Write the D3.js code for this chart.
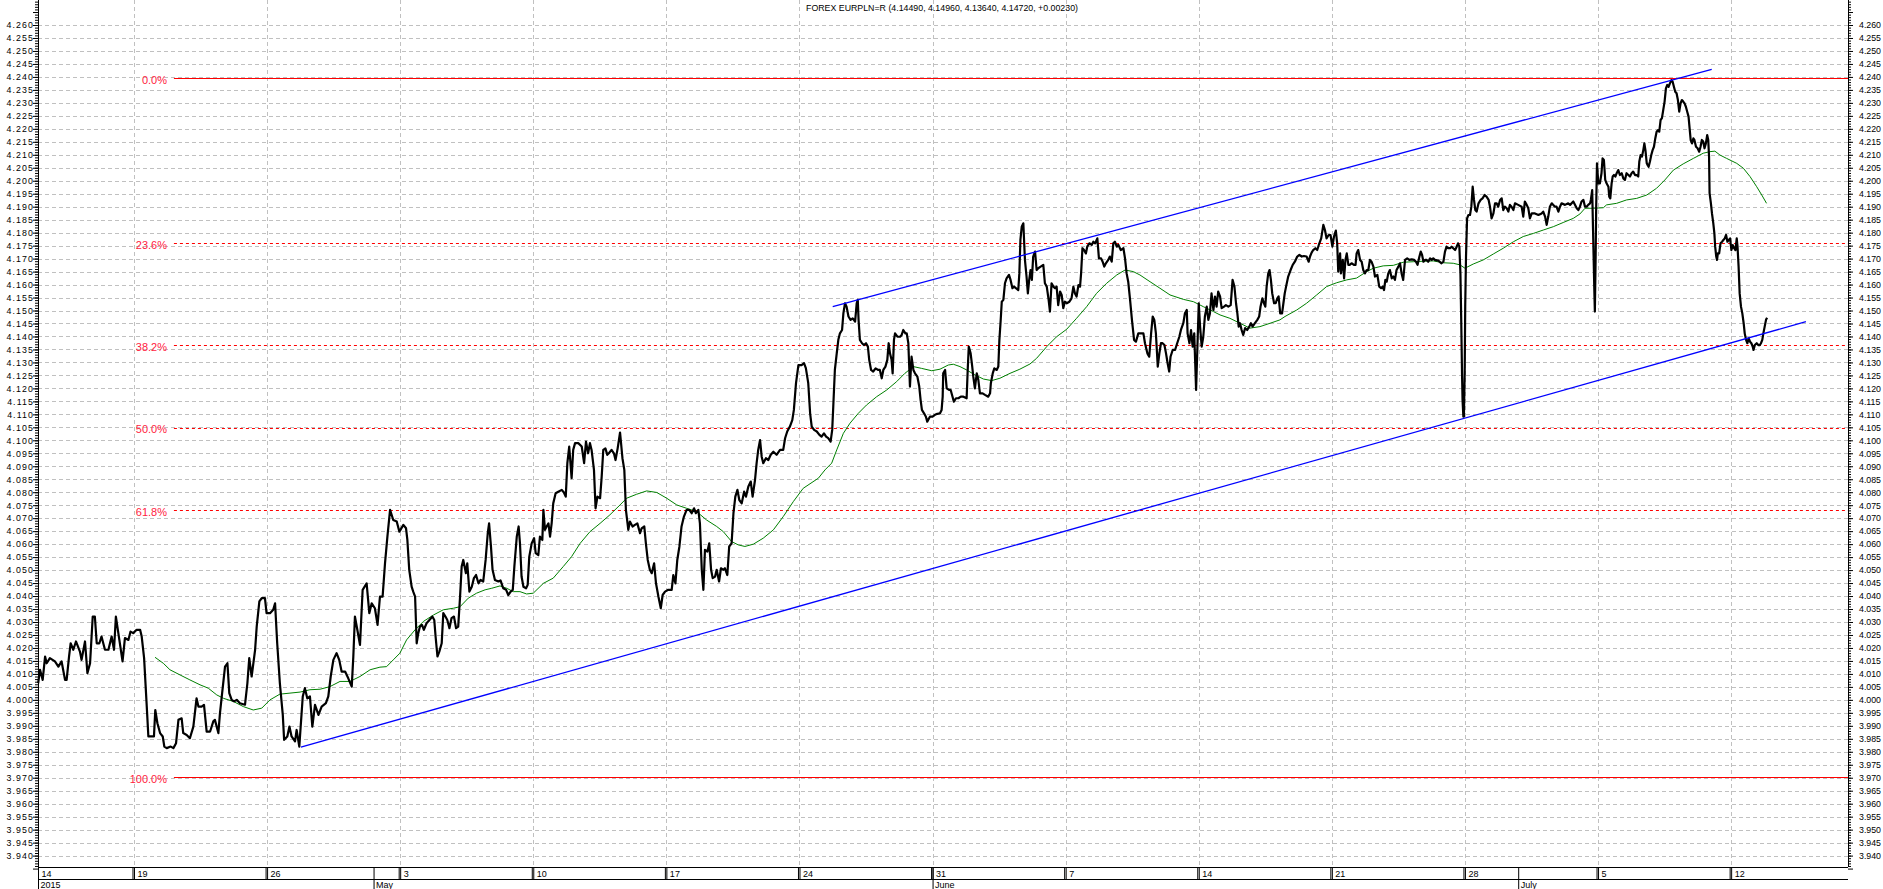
<!DOCTYPE html>
<html>
<head>
<meta charset="utf-8">
<title>FOREX EURPLN=R</title>
<script src="https://cdn.jsdelivr.net/npm/d3@7"></script>
<style>
  html, body { margin: 0; padding: 0; background: #fff; }
  svg { display: block; font-family: "Liberation Sans", Arial, sans-serif; }
</style>
</head>
<body>
<svg id="chart" width="1883" height="889"></svg>
<script>
// x values are trading days counted from Monday 20 Apr 2015 (5 per week)

// Week start labels on the date row (first one sits on the left edge)
const weekDays = [-3.606, 0, 5, 10, 15, 20, 25, 30, 35, 40, 45, 50, 55, 60];
const weekLabels = ['14', '19', '26', '3', '10', '17', '24', '31', '7', '14', '21', '28', '5', '12'];

// Month / year labels
const monthDays = [-3.606, 9, 30, 52];
const monthLabels = ['2015', 'May', 'June', 'July'];

// Fibonacci retracement between the swing low and high
const fibHigh = 4.2395;
const fibLow = 3.9702;
const fibLevels = [0, 0.236, 0.382, 0.5, 0.618, 1];
const fibLabels = ['0.0%', '23.6%', '38.2%', '50.0%', '61.8%', '100.0%'];

// Trend channel (blue)
const channelUpper = [[26.25, 4.1515], [59.27, 4.2429]];
const channelLower = [[6.27, 3.9818], [62.81, 4.1457]];

// EUR/PLN price
const eurplnClose = [
  [-3.60,4.0064],[-3.53,4.0116],[-3.43,4.0077],[-3.34,4.0167],[-3.28,4.0141],[-3.16,4.0161],[-2.97,4.0148],[-2.84,4.0128],
  [-2.72,4.0148],[-2.59,4.0077],[-2.53,4.0077],[-2.44,4.0167],[-2.38,4.0218],[-2.28,4.0193],[-2.18,4.0225],[-2.03,4.0186],
  [-1.97,4.0154],[-1.84,4.0225],[-1.75,4.0103],[-1.65,4.0141],[-1.55,4.0321],[-1.47,4.0321],[-1.40,4.0218],[-1.30,4.0218],
  [-1.22,4.0244],[-1.09,4.0193],[-0.96,4.0193],[-0.84,4.0244],[-0.75,4.0193],[-0.68,4.0321],[-0.55,4.0231],[-0.43,4.0148],
  [-0.34,4.0238],[-0.21,4.0231],[-0.13,4.0263],[-0.03,4.0257],[0.10,4.0270],[0.23,4.0270],[0.29,4.0244],[0.38,4.0161],
  [0.48,3.9974],[0.54,3.9859],[0.66,3.9859],[0.75,3.9859],[0.80,3.9961],[0.88,3.9910],[0.98,3.9872],[1.08,3.9859],
  [1.14,3.9820],[1.23,3.9814],[1.38,3.9820],[1.48,3.9814],[1.58,3.9833],[1.67,3.9923],[1.79,3.9929],[1.85,3.9872],
  [1.98,3.9865],[2.10,3.9852],[2.23,3.9897],[2.35,4.0006],[2.42,3.9974],[2.54,3.9974],[2.63,3.9981],[2.73,3.9878],
  [2.86,3.9878],[2.98,3.9917],[3.04,3.9923],[3.17,3.9872],[3.23,3.9949],[3.29,4.0006],[3.42,4.0128],[3.51,4.0141],
  [3.58,4.0026],[3.67,4.0000],[3.76,3.9994],[3.86,4.0000],[3.98,3.9987],[4.17,3.9981],[4.26,4.0064],[4.33,4.0161],
  [4.42,4.0090],[4.55,4.0193],[4.61,4.0282],[4.71,4.0379],[4.80,4.0392],[4.92,4.0392],[4.98,4.0334],[5.11,4.0334],
  [5.23,4.0347],[5.30,4.0372],[5.38,4.0218],[5.48,4.0064],[5.59,3.9942],[5.64,3.9846],[5.76,3.9859],[5.84,3.9897],
  [5.92,3.9859],[6.05,3.9840],[6.11,3.9884],[6.21,3.9820],[6.34,4.0013],[6.42,4.0045],[6.51,4.0006],[6.61,4.0013],
  [6.70,3.9897],[6.80,3.9981],[6.93,3.9942],[7.05,3.9974],[7.21,3.9987],[7.30,4.0013],[7.39,4.0090],[7.49,4.0154],
  [7.61,4.0180],[7.71,4.0154],[7.80,4.0109],[7.93,4.0109],[8.05,4.0083],[8.18,4.0051],[8.24,4.0167],[8.30,4.0321],
  [8.39,4.0270],[8.49,4.0212],[8.59,4.0424],[8.74,4.0449],[8.84,4.0334],[8.93,4.0372],[9.05,4.0353],[9.15,4.0289],
  [9.24,4.0398],[9.34,4.0398],[9.43,4.0526],[9.52,4.0629],[9.62,4.0732],[9.74,4.0693],[9.87,4.0687],[9.97,4.0648],
  [10.12,4.0674],[10.22,4.0661],[10.27,4.0616],[10.34,4.0501],[10.43,4.0436],[10.49,4.0417],[10.56,4.0398],[10.62,4.0218],
  [10.68,4.0257],[10.74,4.0282],[10.82,4.0289],[10.89,4.0270],[10.99,4.0295],[11.10,4.0308],[11.21,4.0321],[11.28,4.0308],
  [11.33,4.0244],[11.40,4.0167],[11.47,4.0186],[11.56,4.0218],[11.62,4.0334],[11.70,4.0321],[11.77,4.0308],[11.85,4.0276],
  [11.93,4.0315],[12.02,4.0321],[12.10,4.0276],[12.18,4.0282],[12.25,4.0398],[12.31,4.0514],[12.37,4.0539],[12.47,4.0488],
  [12.52,4.0526],[12.60,4.0417],[12.69,4.0436],[12.77,4.0469],[12.85,4.0481],[12.94,4.0449],[13.02,4.0462],[13.12,4.0456],
  [13.21,4.0539],[13.29,4.0642],[13.34,4.0680],[13.41,4.0591],[13.47,4.0501],[13.56,4.0462],[13.69,4.0456],[13.77,4.0460],
  [13.87,4.0430],[13.98,4.0424],[14.06,4.0404],[14.15,4.0417],[14.23,4.0424],[14.29,4.0514],[14.38,4.0629],[14.45,4.0668],
  [14.50,4.0603],[14.56,4.0475],[14.63,4.0436],[14.73,4.0430],[14.79,4.0443],[14.85,4.0552],[14.94,4.0603],[15.03,4.0623],
  [15.09,4.0565],[15.19,4.0558],[15.25,4.0629],[15.34,4.0616],[15.38,4.0732],[15.44,4.0655],[15.50,4.0668],[15.57,4.0680],
  [15.63,4.0629],[15.69,4.0680],[15.75,4.0757],[15.84,4.0796],[15.94,4.0802],[16.07,4.0809],[16.15,4.0799],[16.22,4.0783],
  [16.28,4.0912],[16.35,4.0976],[16.44,4.0854],[16.50,4.0963],[16.57,4.0989],[16.69,4.0989],[16.82,4.0976],[16.91,4.0912],
  [16.98,4.0995],[17.06,4.0950],[17.13,4.0989],[17.19,4.0963],[17.28,4.0886],[17.34,4.0738],[17.41,4.0783],[17.51,4.0777],
  [17.57,4.0860],[17.63,4.0963],[17.71,4.0969],[17.78,4.0944],[17.84,4.0950],[17.94,4.0963],[18.03,4.0950],[18.09,4.0924],
  [18.17,4.0969],[18.26,4.1030],[18.35,4.0931],[18.42,4.0886],[18.48,4.0732],[18.57,4.0655],[18.63,4.0687],[18.73,4.0668],
  [18.82,4.0674],[18.91,4.0680],[19.01,4.0642],[19.07,4.0661],[19.17,4.0668],[19.23,4.0603],[19.30,4.0539],[19.38,4.0501],
  [19.45,4.0488],[19.54,4.0526],[19.61,4.0449],[19.70,4.0398],[19.79,4.0353],[19.86,4.0404],[19.95,4.0417],[20.07,4.0424],
  [20.20,4.0424],[20.26,4.0481],[20.34,4.0449],[20.41,4.0539],[20.49,4.0591],[20.57,4.0668],[20.66,4.0706],[20.76,4.0732],
  [20.86,4.0732],[20.95,4.0719],[21.04,4.0738],[21.11,4.0719],[21.20,4.0732],[21.26,4.0680],[21.33,4.0501],[21.39,4.0424],
  [21.45,4.0578],[21.54,4.0571],[21.61,4.0603],[21.68,4.0501],[21.74,4.0469],[21.83,4.0475],[21.89,4.0501],[21.98,4.0456],
  [22.05,4.0507],[22.14,4.0501],[22.20,4.0507],[22.29,4.0481],[22.36,4.0591],[22.45,4.0603],[22.52,4.0719],[22.59,4.0783],
  [22.67,4.0809],[22.74,4.0770],[22.83,4.0757],[22.92,4.0802],[22.99,4.0783],[23.08,4.0822],[23.17,4.0841],[23.24,4.0783],
  [23.33,4.0847],[23.39,4.0912],[23.45,4.0963],[23.52,4.1001],[23.58,4.0937],[23.64,4.0912],[23.74,4.0931],[23.83,4.0924],
  [23.92,4.0944],[24.02,4.0956],[24.14,4.0944],[24.27,4.0963],[24.39,4.0963],[24.46,4.1008],[24.54,4.1034],[24.64,4.1053],
  [24.73,4.1078],[24.79,4.1117],[24.87,4.1220],[24.96,4.1290],[25.08,4.1290],[25.17,4.1297],[25.24,4.1278],[25.33,4.1220],
  [25.40,4.1104],[25.46,4.1053],[25.55,4.1040],[25.65,4.1034],[25.75,4.1021],[25.83,4.1014],[25.92,4.1027],[26.00,4.1014],
  [26.08,4.1008],[26.17,4.0995],[26.23,4.1040],[26.27,4.1130],[26.33,4.1271],[26.40,4.1335],[26.46,4.1387],[26.52,4.1412],
  [26.60,4.1425],[26.65,4.1489],[26.71,4.1528],[26.77,4.1515],[26.84,4.1477],[26.92,4.1464],[27.00,4.1470],[27.09,4.1457],
  [27.15,4.1528],[27.19,4.1541],[27.22,4.1464],[27.27,4.1387],[27.35,4.1374],[27.42,4.1367],[27.50,4.1374],[27.57,4.1361],
  [27.62,4.1310],[27.69,4.1271],[27.77,4.1265],[27.86,4.1277],[27.96,4.1271],[28.02,4.1271],[28.09,4.1239],[28.15,4.1271],
  [28.23,4.1284],[28.30,4.1310],[28.35,4.1374],[28.40,4.1335],[28.46,4.1310],[28.50,4.1258],[28.55,4.1387],[28.59,4.1412],
  [28.68,4.1399],[28.78,4.1399],[28.84,4.1406],[28.90,4.1425],[28.98,4.1412],[29.03,4.1412],[29.09,4.1374],[29.15,4.1207],
  [29.21,4.1322],[29.28,4.1271],[29.34,4.1258],[29.43,4.1245],[29.50,4.1207],[29.55,4.1156],[29.60,4.1117],[29.68,4.1104],
  [29.75,4.1091],[29.80,4.1072],[29.90,4.1091],[30.00,4.1091],[30.09,4.1098],[30.18,4.1102],[30.28,4.1104],[30.34,4.1117],
  [30.38,4.1168],[30.40,4.1258],[30.47,4.1271],[30.53,4.1200],[30.62,4.1194],[30.68,4.1194],[30.75,4.1168],[30.80,4.1149],
  [30.88,4.1162],[30.97,4.1162],[31.06,4.1168],[31.16,4.1168],[31.28,4.1162],[31.32,4.1271],[31.36,4.1361],[31.43,4.1335],
  [31.49,4.1284],[31.53,4.1245],[31.59,4.1200],[31.66,4.1258],[31.72,4.1232],[31.78,4.1181],[31.88,4.1181],[31.97,4.1175],
  [32.09,4.1168],[32.16,4.1181],[32.19,4.1220],[32.26,4.1258],[32.32,4.1277],[32.41,4.1271],[32.47,4.1284],[32.51,4.1387],
  [32.56,4.1464],[32.60,4.1534],[32.66,4.1541],[32.72,4.1605],[32.78,4.1624],[32.87,4.1637],[32.93,4.1618],[33.00,4.1586],
  [33.06,4.1592],[33.13,4.1586],[33.22,4.1579],[33.26,4.1643],[33.30,4.1772],[33.35,4.1823],[33.41,4.1836],[33.47,4.1695],
  [33.53,4.1631],[33.58,4.1566],[33.63,4.1618],[33.68,4.1656],[33.73,4.1618],[33.78,4.1708],[33.85,4.1727],[33.91,4.1656],
  [33.97,4.1663],[34.06,4.1669],[34.16,4.1676],[34.22,4.1605],[34.29,4.1592],[34.36,4.1541],[34.41,4.1496],[34.47,4.1605],
  [34.54,4.1592],[34.60,4.1586],[34.66,4.1592],[34.72,4.1521],[34.79,4.1573],[34.85,4.1560],[34.91,4.1509],[34.97,4.1534],
  [35.04,4.1528],[35.14,4.1534],[35.22,4.1547],[35.29,4.1592],[35.35,4.1566],[35.41,4.1554],[35.48,4.1598],[35.54,4.1592],
  [35.58,4.1643],[35.63,4.1740],[35.69,4.1733],[35.76,4.1720],[35.81,4.1746],[35.89,4.1759],[35.98,4.1753],[36.04,4.1765],
  [36.11,4.1759],[36.19,4.1778],[36.25,4.1701],[36.33,4.1701],[36.39,4.1688],[36.45,4.1669],[36.51,4.1682],[36.60,4.1695],
  [36.66,4.1708],[36.73,4.1688],[36.79,4.1759],[36.85,4.1765],[36.92,4.1746],[36.98,4.1753],[37.07,4.1733],[37.17,4.1740],
  [37.23,4.1701],[37.29,4.1643],[37.35,4.1611],[37.42,4.1541],[37.49,4.1464],[37.57,4.1387],[37.64,4.1380],[37.73,4.1412],
  [37.85,4.1412],[37.92,4.1412],[37.98,4.1374],[38.07,4.1335],[38.14,4.1322],[38.21,4.1412],[38.27,4.1477],[38.33,4.1464],
  [38.39,4.1412],[38.46,4.1284],[38.52,4.1335],[38.58,4.1374],[38.64,4.1374],[38.71,4.1367],[38.77,4.1335],[38.83,4.1297],
  [38.89,4.1265],[38.94,4.1322],[39.02,4.1348],[39.11,4.1348],[39.19,4.1374],[39.27,4.1399],[39.33,4.1425],[39.42,4.1451],
  [39.48,4.1489],[39.55,4.1502],[39.58,4.1412],[39.65,4.1374],[39.71,4.1425],[39.77,4.1361],[39.83,4.1412],[39.90,4.1194],
  [39.95,4.1361],[40.00,4.1528],[40.05,4.1438],[40.11,4.1361],[40.17,4.1399],[40.23,4.1477],[40.30,4.1515],[40.36,4.1464],
  [40.42,4.1489],[40.48,4.1566],[40.55,4.1502],[40.61,4.1554],[40.67,4.1515],[40.73,4.1573],[40.80,4.1554],[40.86,4.1509],
  [40.95,4.1515],[41.02,4.1521],[41.11,4.1515],[41.20,4.1521],[41.27,4.1618],[41.34,4.1592],[41.40,4.1528],[41.45,4.1489],
  [41.50,4.1438],[41.55,4.1451],[41.61,4.1425],[41.67,4.1406],[41.74,4.1432],[41.82,4.1425],[41.90,4.1438],[41.96,4.1451],
  [42.02,4.1438],[42.11,4.1451],[42.20,4.1464],[42.27,4.1477],[42.32,4.1515],[42.39,4.1547],[42.45,4.1528],[42.50,4.1515],
  [42.55,4.1592],[42.61,4.1643],[42.66,4.1656],[42.71,4.1618],[42.76,4.1566],[42.83,4.1528],[42.89,4.1528],[42.95,4.1547],
  [43.00,4.1554],[43.06,4.1489],[43.13,4.1489],[43.18,4.1528],[43.23,4.1566],[43.28,4.1592],[43.36,4.1631],[43.45,4.1656],
  [43.53,4.1676],[43.61,4.1688],[43.70,4.1708],[43.78,4.1714],[43.87,4.1708],[43.95,4.1710],[44.05,4.1708],[44.13,4.1688],
  [44.18,4.1708],[44.24,4.1723],[44.30,4.1733],[44.38,4.1740],[44.45,4.1733],[44.53,4.1759],[44.60,4.1778],[44.68,4.1830],
  [44.74,4.1810],[44.80,4.1778],[44.88,4.1791],[44.95,4.1791],[45.02,4.1746],[45.08,4.1785],[45.15,4.1808],[45.20,4.1759],
  [45.24,4.1650],[45.31,4.1720],[45.34,4.1643],[45.41,4.1695],[45.46,4.1624],[45.51,4.1695],[45.56,4.1720],[45.62,4.1676],
  [45.68,4.1676],[45.74,4.1682],[45.83,4.1676],[45.89,4.1676],[45.93,4.1720],[45.99,4.1733],[46.06,4.1695],[46.12,4.1688],
  [46.18,4.1656],[46.24,4.1643],[46.31,4.1656],[46.37,4.1656],[46.43,4.1695],[46.49,4.1688],[46.56,4.1669],[46.62,4.1631],
  [46.71,4.1637],[46.78,4.1592],[46.85,4.1586],[46.91,4.1592],[46.96,4.1579],[47.01,4.1618],[47.06,4.1611],[47.12,4.1643],
  [47.18,4.1656],[47.25,4.1624],[47.31,4.1631],[47.37,4.1618],[47.43,4.1656],[47.50,4.1669],[47.56,4.1682],[47.62,4.1643],
  [47.68,4.1618],[47.75,4.1695],[47.83,4.1701],[47.91,4.1695],[48.00,4.1697],[48.09,4.1695],[48.16,4.1688],[48.22,4.1676],
  [48.29,4.1708],[48.34,4.1727],[48.39,4.1714],[48.44,4.1688],[48.50,4.1695],[48.56,4.1695],[48.62,4.1688],[48.69,4.1701],
  [48.75,4.1695],[48.81,4.1701],[48.87,4.1695],[49.00,4.1692],[49.12,4.1682],[49.19,4.1688],[49.25,4.1727],[49.31,4.1746],
  [49.37,4.1740],[49.44,4.1740],[49.50,4.1746],[49.56,4.1740],[49.63,4.1733],[49.69,4.1746],[49.74,4.1759],[49.79,4.1746],
  [49.83,4.1643],[49.86,4.1464],[49.89,4.1258],[49.91,4.1155],[49.94,4.1091],[49.96,4.1091],[49.99,4.1258],[50.01,4.1515],
  [50.04,4.1708],[50.08,4.1855],[50.13,4.1868],[50.19,4.1868],[50.24,4.1900],[50.29,4.1977],[50.34,4.1926],[50.39,4.1887],
  [50.44,4.1881],[50.51,4.1913],[50.59,4.1926],[50.66,4.1932],[50.74,4.1945],[50.81,4.1939],[50.89,4.1926],[50.94,4.1900],
  [51.00,4.1855],[51.07,4.1874],[51.13,4.1913],[51.19,4.1913],[51.25,4.1900],[51.32,4.1926],[51.38,4.1932],[51.44,4.1887],
  [51.50,4.1900],[51.57,4.1894],[51.63,4.1881],[51.69,4.1907],[51.75,4.1900],[51.82,4.1887],[51.88,4.1913],[52.00,4.1907],
  [52.13,4.1900],[52.19,4.1862],[52.25,4.1920],[52.32,4.1907],[52.38,4.1894],[52.44,4.1855],[52.51,4.1874],[52.63,4.1874],
  [52.76,4.1868],[52.88,4.1874],[52.94,4.1881],[53.01,4.1862],[53.07,4.1830],[53.13,4.1862],[53.19,4.1900],[53.26,4.1913],
  [53.38,4.1900],[53.44,4.1900],[53.51,4.1881],[53.57,4.1900],[53.63,4.1913],[53.76,4.1907],[53.88,4.1913],[53.95,4.1907],
  [54.07,4.1920],[54.20,4.1894],[54.26,4.1887],[54.32,4.1900],[54.38,4.1920],[54.45,4.1926],[54.51,4.1900],[54.57,4.1900],
  [54.63,4.1907],[54.70,4.1913],[54.73,4.1926],[54.78,4.1964],[54.82,4.1772],[54.86,4.1579],[54.88,4.1496],[54.91,4.1708],
  [54.93,4.1900],[54.96,4.2067],[55.01,4.1990],[55.07,4.1990],[55.13,4.2029],[55.17,4.2086],[55.22,4.2080],[55.27,4.2003],
  [55.32,4.1990],[55.39,4.1977],[55.42,4.1939],[55.46,4.1932],[55.51,4.1990],[55.55,4.2016],[55.60,4.2022],[55.65,4.2016],
  [55.70,4.2029],[55.76,4.2041],[55.82,4.2022],[55.89,4.2029],[55.95,4.2009],[56.01,4.2003],[56.07,4.2029],[56.14,4.2022],
  [56.20,4.2016],[56.26,4.2029],[56.32,4.2035],[56.39,4.2022],[56.45,4.2022],[56.51,4.2016],[56.55,4.2074],[56.60,4.2099],
  [56.65,4.2093],[56.70,4.2118],[56.74,4.2144],[56.78,4.2118],[56.83,4.2067],[56.86,4.2061],[56.90,4.2054],[56.95,4.2074],
  [57.00,4.2099],[57.05,4.2118],[57.10,4.2131],[57.15,4.2163],[57.20,4.2189],[57.25,4.2195],[57.30,4.2189],[57.35,4.2234],
  [57.40,4.2241],[57.45,4.2273],[57.50,4.2305],[57.55,4.2356],[57.60,4.2369],[57.65,4.2362],[57.70,4.2375],[57.76,4.2388],
  [57.80,4.2382],[57.85,4.2362],[57.90,4.2343],[57.95,4.2337],[58.00,4.2311],[58.05,4.2266],[58.10,4.2298],[58.15,4.2311],
  [58.20,4.2305],[58.25,4.2298],[58.30,4.2285],[58.35,4.2266],[58.40,4.2247],[58.44,4.2202],[58.48,4.2157],[58.53,4.2144],
  [58.58,4.2163],[58.62,4.2157],[58.68,4.2131],[58.74,4.2125],[58.80,4.2112],[58.85,4.2131],[58.90,4.2157],[58.95,4.2151],
  [59.00,4.2125],[59.05,4.2144],[59.10,4.2176],[59.14,4.2157],[59.17,4.2093],[59.19,4.1952],[59.24,4.1913],[59.28,4.1874],
  [59.33,4.1836],[59.37,4.1797],[59.40,4.1746],[59.44,4.1708],[59.47,4.1695],[59.50,4.1720],[59.55,4.1720],[59.60,4.1759],
  [59.66,4.1765],[59.71,4.1772],[59.76,4.1778],[59.81,4.1791],[59.86,4.1765],[59.91,4.1772],[59.96,4.1778],[60.01,4.1733],
  [60.06,4.1752],[60.11,4.1740],[60.16,4.1733],[60.21,4.1778],[60.24,4.1746],[60.28,4.1669],[60.32,4.1566],[60.37,4.1515],
  [60.42,4.1489],[60.47,4.1451],[60.51,4.1412],[60.56,4.1387],[60.61,4.1374],[60.66,4.1393],[60.71,4.1380],[60.76,4.1374],
  [60.81,4.1361],[60.84,4.1348],[60.89,4.1367],[60.96,4.1374],[61.02,4.1367],[61.08,4.1367],[61.12,4.1374],[61.17,4.1387],
  [61.21,4.1412],[61.26,4.1438],[61.31,4.1464],[61.35,4.1472]
];

// Moving average (green)
const movingAvg = [
  [0.79,4.0164],[1.10,4.0141],[1.35,4.0116],[1.73,4.0096],[2.10,4.0077],[2.48,4.0058],[2.79,4.0045],[3.11,4.0019],
  [3.36,4.0006],[3.73,3.9994],[4.11,3.9974],[4.48,3.9961],[4.80,3.9968],[5.11,4.0000],[5.48,4.0022],[5.86,4.0026],
  [6.24,4.0030],[6.61,4.0039],[6.99,4.0041],[7.36,4.0051],[7.74,4.0071],[8.11,4.0071],[8.49,4.0090],[8.87,4.0116],
  [9.24,4.0126],[9.49,4.0128],[9.74,4.0154],[9.99,4.0180],[10.24,4.0231],[10.56,4.0270],[10.87,4.0302],[11.25,4.0327],
  [11.62,4.0347],[12.00,4.0353],[12.25,4.0359],[12.56,4.0392],[12.87,4.0411],[13.19,4.0424],[13.44,4.0430],[13.75,4.0439],
  [14.00,4.0430],[14.25,4.0417],[14.50,4.0417],[14.75,4.0408],[15.00,4.0411],[15.38,4.0449],[15.75,4.0469],[16.13,4.0514],
  [16.44,4.0552],[16.76,4.0603],[17.13,4.0648],[17.51,4.0680],[17.88,4.0713],[18.26,4.0751],[18.51,4.0777],[18.88,4.0792],
  [19.26,4.0805],[19.64,4.0799],[20.01,4.0777],[20.39,4.0751],[20.76,4.0738],[21.14,4.0725],[21.51,4.0693],[21.89,4.0668],
  [22.14,4.0648],[22.45,4.0610],[22.70,4.0597],[22.95,4.0591],[23.27,4.0600],[23.64,4.0623],[24.02,4.0655],[24.39,4.0706],
  [24.77,4.0764],[25.14,4.0815],[25.71,4.0854],[25.96,4.0886],[26.21,4.0912],[26.40,4.0963],[26.65,4.1027],[26.90,4.1066],
  [27.21,4.1104],[27.52,4.1136],[27.90,4.1168],[28.28,4.1194],[28.65,4.1226],[28.96,4.1258],[29.28,4.1284],[29.59,4.1277],
  [29.97,4.1268],[30.28,4.1274],[30.59,4.1290],[30.78,4.1293],[31.03,4.1284],[31.28,4.1271],[31.59,4.1252],[31.91,4.1236],
  [32.22,4.1230],[32.53,4.1239],[32.91,4.1258],[33.28,4.1274],[33.66,4.1294],[33.91,4.1316],[34.29,4.1361],[34.66,4.1399],
  [35.04,4.1428],[35.41,4.1470],[35.79,4.1515],[36.16,4.1566],[36.54,4.1605],[36.92,4.1637],[37.23,4.1656],[37.54,4.1650],
  [37.79,4.1637],[38.17,4.1611],[38.54,4.1586],[38.92,4.1560],[39.42,4.1543],[39.80,4.1534],[40.17,4.1515],[40.55,4.1496],
  [40.80,4.1483],[41.17,4.1470],[41.55,4.1451],[41.92,4.1432],[42.30,4.1438],[42.68,4.1451],[43.05,4.1464],[43.24,4.1477],
  [43.68,4.1502],[44.05,4.1528],[44.43,4.1560],[44.80,4.1592],[45.18,4.1607],[45.56,4.1618],[45.93,4.1625],[46.31,4.1650],
  [46.56,4.1663],[46.93,4.1672],[47.31,4.1674],[47.68,4.1686],[48.06,4.1688],[48.44,4.1690],[48.81,4.1691],[49.19,4.1684],
  [49.56,4.1682],[49.81,4.1676],[50.00,4.1663],[50.31,4.1679],[50.69,4.1695],[51.07,4.1718],[51.44,4.1740],[51.82,4.1765],
  [52.19,4.1785],[52.57,4.1797],[52.94,4.1810],[53.32,4.1823],[53.69,4.1839],[54.07,4.1855],[54.32,4.1872],[54.51,4.1894],
  [54.82,4.1894],[55.20,4.1896],[55.32,4.1907],[55.70,4.1913],[56.07,4.1926],[56.45,4.1932],[56.83,4.1945],[57.20,4.1971],
  [57.51,4.2003],[57.83,4.2041],[58.20,4.2065],[58.58,4.2086],[58.95,4.2106],[59.20,4.2112],[59.39,4.2114],[59.58,4.2099],
  [59.83,4.2086],[60.21,4.2067],[60.46,4.2048],[60.71,4.2016],[60.96,4.1977],[61.15,4.1945],[61.33,4.1913]
];

// Layout
const width = 1883, height = 889;
const plotLeft = 38, plotRight = 1848;
const dateTop = 867, dateMid = 879;
const fibStartDay = 1.5;

const svg = d3.select('#chart');

const x = d3.scaleLinear().domain([-3.606, 64.39]).range([plotLeft, plotRight]);
const y = d3.scaleLinear().domain([3.94, 4.26]).range([855.6, 25]);

// Tick values on the price axes
const majorTicks = d3.range(3935, 4270, 5).map(v => v / 1000);
const minorTicks = d3.range(3936, 4270).map(v => v / 1000);
const labelTicks = majorTicks.filter(v => v >= 3.94 && v <= 4.26);
const fmt = d3.format('.3f');

// Horizontal gridlines
svg.append('g')
  .selectAll('line')
  .data(labelTicks)
  .join('line')
  .attr('x1', plotLeft)
  .attr('x2', plotRight)
  .attr('y1', d => Math.round(y(d)) + 0.5)
  .attr('y2', d => Math.round(y(d)) + 0.5)
  .attr('stroke', '#c0c0c0')
  .attr('stroke-dasharray', '4,3');

// Vertical gridlines at week starts
svg.append('g')
  .selectAll('line')
  .data(weekDays.slice(1))
  .join('line')
  .attr('x1', d => Math.round(x(d)) + 0.5)
  .attr('x2', d => Math.round(x(d)) + 0.5)
  .attr('y1', 0)
  .attr('y2', dateTop)
  .attr('stroke', '#c0c0c0')
  .attr('stroke-dasharray', '4,3');

// Fibonacci levels
const fibValues = fibLevels.map(f => fibHigh - f * (fibHigh - fibLow));
const fibG = svg.append('g');
fibG.selectAll('line')
  .data(fibValues)
  .join('line')
  .attr('x1', x(fibStartDay))
  .attr('x2', plotRight)
  .attr('y1', d => Math.round(y(d)) + 0.5)
  .attr('y2', d => Math.round(y(d)) + 0.5)
  .attr('stroke', '#ff0000')
  .attr('stroke-width', 1.2)
  .attr('stroke-dasharray', (d, i) => (i === 0 || i === fibValues.length - 1) ? null : '3,3');
fibG.selectAll('text')
  .data(fibValues)
  .join('text')
  .attr('x', 167)
  .attr('y', d => y(d) + 1.5)
  .attr('dy', '0.35em')
  .attr('text-anchor', 'end')
  .attr('font-size', 11)
  .attr('fill', '#ff1a40')
  .text((d, i) => fibLabels[i]);

// Moving average
const line = d3.line().x(d => x(d[0])).y(d => y(d[1]));
svg.append('path')
  .datum(movingAvg)
  .attr('d', line)
  .attr('fill', 'none')
  .attr('stroke', '#008000')
  .attr('stroke-width', 1);

// Price line
svg.append('path')
  .datum(eurplnClose)
  .attr('d', line)
  .attr('fill', 'none')
  .attr('stroke', '#000')
  .attr('stroke-width', 2.2)
  .attr('stroke-linejoin', 'round');

// Trend channel
svg.append('g')
  .selectAll('path')
  .data([channelUpper, channelLower])
  .join('path')
  .attr('d', line)
  .attr('fill', 'none')
  .attr('stroke', '#0000ff')
  .attr('stroke-width', 1.3);

// Left price axis
function styleAxis(g) {
  g.select('.domain').remove();
  g.attr('font-family', null).attr('font-size', null);
  g.selectAll('line').attr('stroke', '#000');
  g.selectAll('text').attr('fill', '#000');
}

svg.append('g')
  .attr('transform', `translate(${plotLeft},0)`)
  .call(d3.axisLeft(y).tickValues(minorTicks).tickSize(3).tickFormat(''))
  .call(styleAxis);
svg.append('g')
  .attr('transform', `translate(${plotLeft},0)`)
  .call(d3.axisLeft(y).tickValues(majorTicks).tickSize(5).tickPadding(-1)
    .tickFormat(d => labelTicks.includes(d) ? fmt(d) : ''))
  .call(styleAxis)
  .selectAll('text')
  .attr('font-size', 8.8)
  .attr('letter-spacing', 1.1);

// Right price axis
svg.append('g')
  .attr('transform', `translate(${plotRight},0)`)
  .call(d3.axisRight(y).tickValues(minorTicks).tickSize(3).tickFormat(''))
  .call(styleAxis);
svg.append('g')
  .attr('transform', `translate(${plotRight},0)`)
  .call(d3.axisRight(y).tickValues(majorTicks).tickSize(5).tickPadding(6)
    .tickFormat(d => labelTicks.includes(d) ? fmt(d) : ''))
  .call(styleAxis)
  .selectAll('text')
  .attr('font-size', 8.8);

// Axis frame lines
svg.append('line')
  .attr('x1', plotLeft + 0.5).attr('x2', plotLeft + 0.5)
  .attr('y1', 0).attr('y2', height)
  .attr('stroke', '#000');
svg.append('line')
  .attr('x1', plotRight + 0.5).attr('x2', plotRight + 0.5)
  .attr('y1', 0).attr('y2', dateTop)
  .attr('stroke', '#000');
[dateTop, dateMid].forEach(v => {
  svg.append('line')
    .attr('x1', plotLeft).attr('x2', plotRight)
    .attr('y1', v + 0.5).attr('y2', v + 0.5)
    .attr('stroke', '#000');
});

// Date row: week starts
const weekG = svg.append('g')
  .attr('transform', `translate(0,${dateTop})`)
  .call(d3.axisBottom(x).tickValues(weekDays).tickSize(dateMid - dateTop)
    .tickFormat((d, i) => weekLabels[i]))
  .call(styleAxis);
weekG.selectAll('.tick text')
  .attr('x', 3)
  .attr('y', 6.5)
  .attr('dy', '0.35em')
  .attr('text-anchor', 'start')
  .attr('font-size', 9);
weekG.selectAll('.tick')
  .filter((d, i) => i > 0)
  .append('line')
  .attr('x1', -1.5).attr('x2', -1.5)
  .attr('y2', dateMid - dateTop)
  .attr('stroke', '#000');

// Month / year row
const monthG = svg.append('g')
  .attr('transform', `translate(0,${dateTop})`)
  .call(d3.axisBottom(x).tickValues(monthDays).tickSize(height - dateTop)
    .tickFormat((d, i) => monthLabels[i]))
  .call(styleAxis);
monthG.selectAll('.tick text')
  .attr('x', 2)
  .attr('y', 17.5)
  .attr('dy', '0.35em')
  .attr('text-anchor', 'start')
  .attr('font-size', 9);

// Title
svg.append('text')
  .attr('x', 806)
  .attr('y', 10.5)
  .attr('font-size', 9.5)
  .attr('fill', '#000')
  .attr('textLength', 272)
  .attr('lengthAdjust', 'spacingAndGlyphs')
  .text('FOREX EURPLN=R (4.14490, 4.14960, 4.13640, 4.14720, +0.00230)');
</script>
</body>
</html>
